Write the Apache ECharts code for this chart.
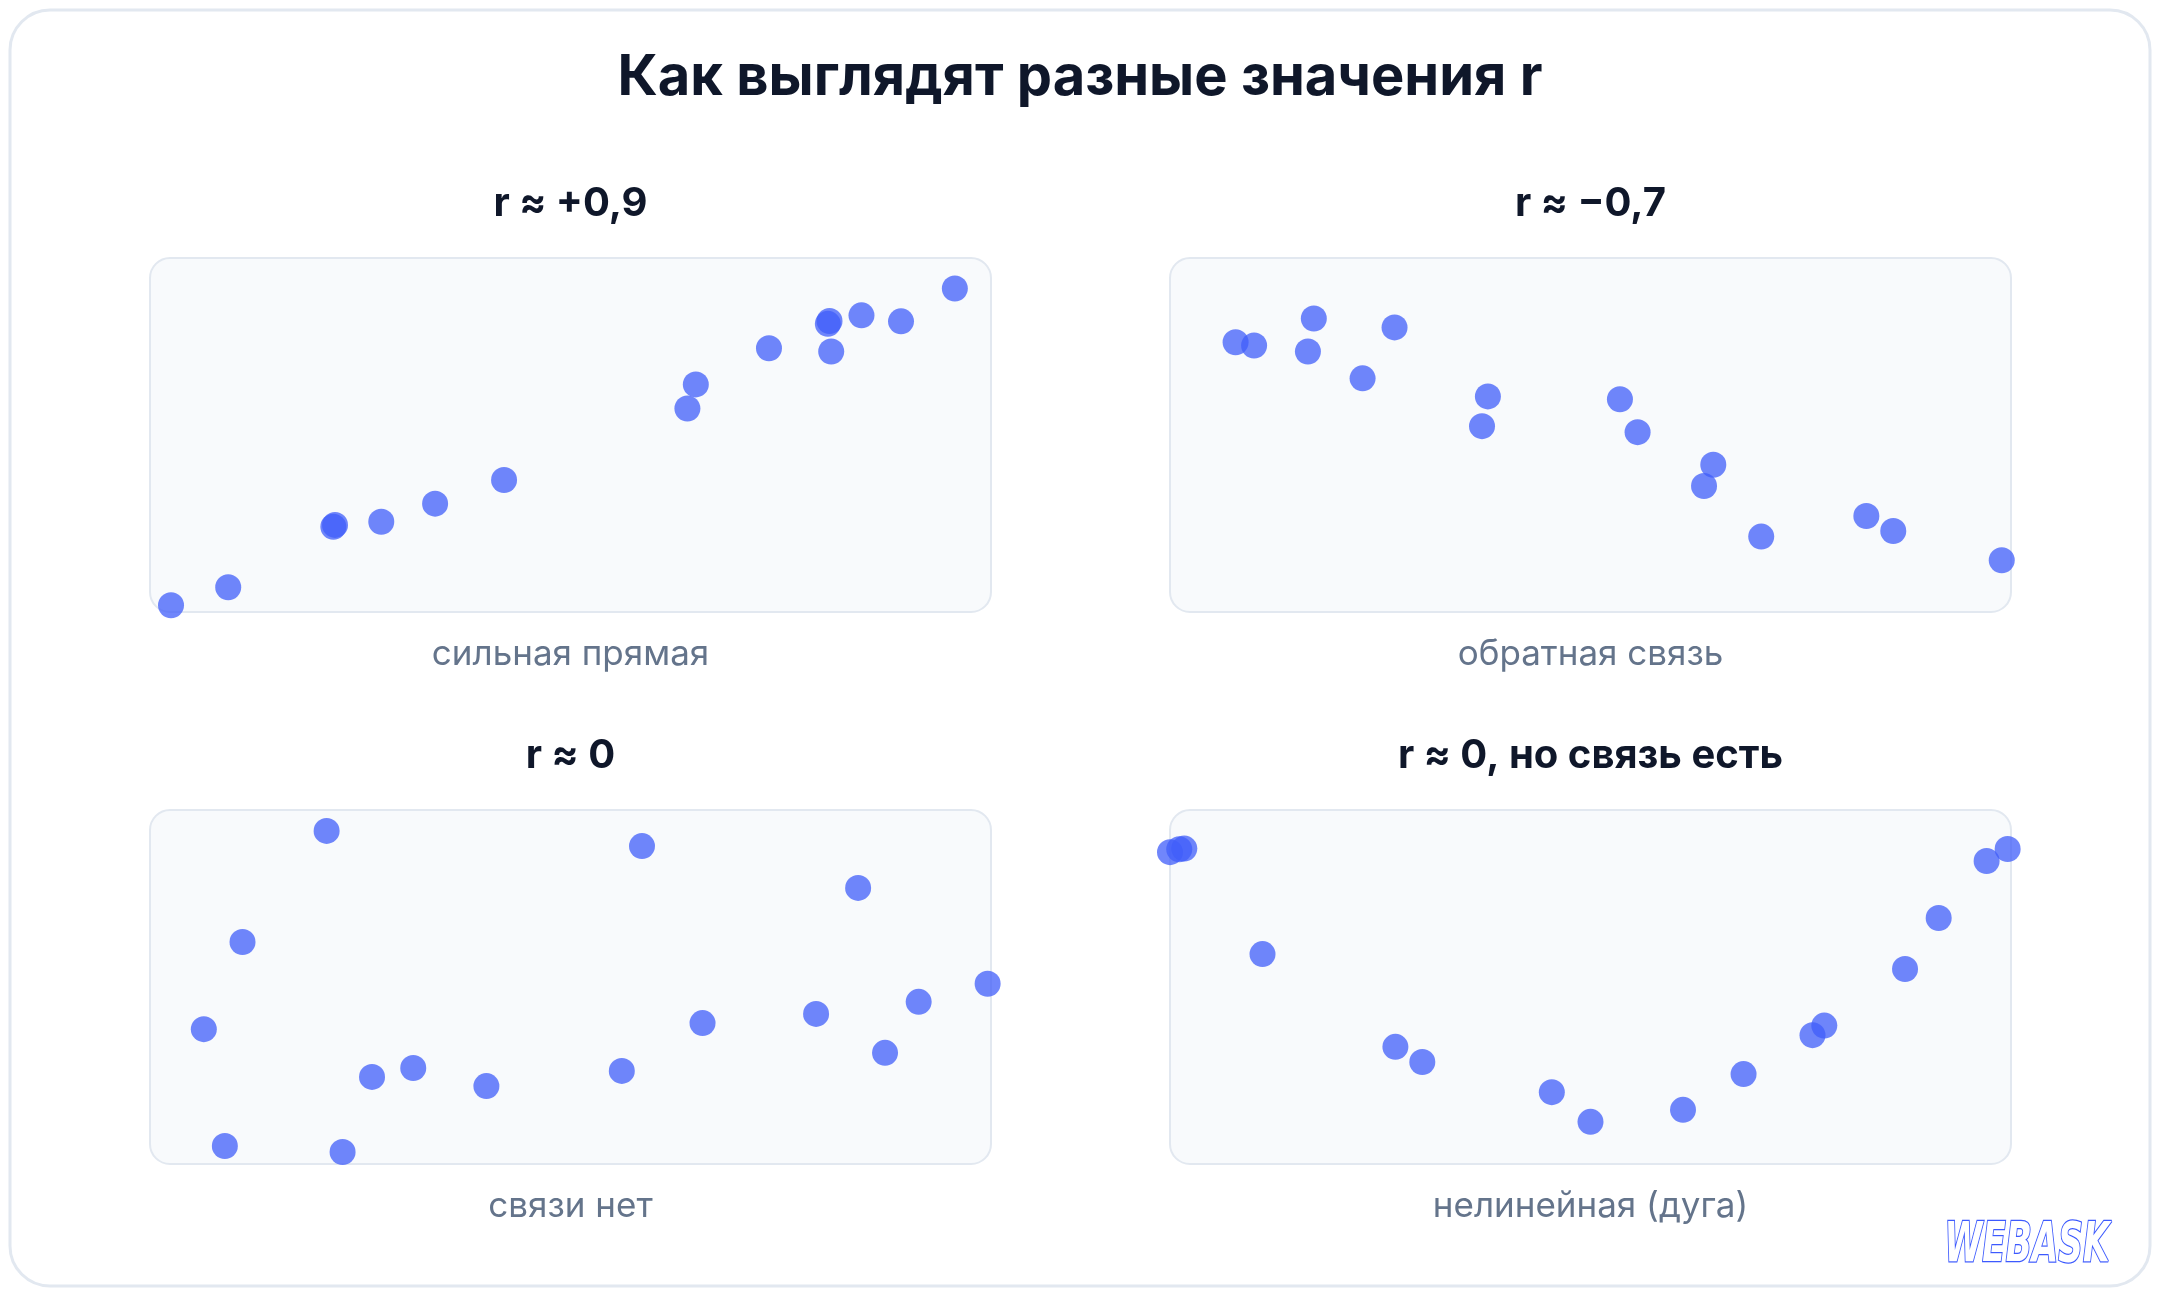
<!DOCTYPE html>
<html>
<head>
<meta charset="utf-8">
<script src="https://cdn.jsdelivr.net/npm/echarts@6/dist/echarts.min.js"></script>
<style>
  html, body { margin: 0; padding: 0; background: #ffffff; }
  #chart { width: 2160px; height: 1296px; }
</style>
</head>
<body>
<div id="chart"></div>
<script>
// ---- Data (normalised 0–100 within each panel) ----
const mainTitle = 'Как выглядят разные значения r';
const panelTitles = ['r ≈ +0,9', 'r ≈ −0,7', 'r ≈ 0', 'r ≈ 0, но связь есть'];
const panelCaptions = ['сильная прямая', 'обратная связь', 'связи нет', 'нелинейная (дуга)'];

const strongX = [2.5, 9.3, 21.8, 22.0, 27.5, 33.9, 42.1, 63.9, 64.9, 73.6, 80.6, 80.8, 81.0, 84.6, 89.3, 95.7];
const strongY = [1.9, 7.0, 24.1, 24.6, 25.5, 30.6, 37.3, 57.5, 64.3, 74.5, 81.4, 82.2, 73.6, 83.8, 82.1, 91.4];

const inverseX = [7.8, 10.0, 17.1, 16.4, 26.7, 22.9, 37.8, 37.1, 53.5, 55.6, 64.6, 63.5, 70.3, 82.8, 86.0, 98.9];
const inverseY = [76.2, 75.3, 82.9, 73.6, 80.4, 66.0, 60.9, 52.5, 60.1, 50.8, 41.6, 35.6, 21.3, 27.1, 22.9, 14.6];

const noneX = [21.0, 58.5, 84.2, 11.0, 99.6, 91.4, 79.2, 65.7, 6.4, 87.4, 56.1, 31.3, 26.4, 40.0, 8.9, 22.9];
const noneY = [94.1, 89.8, 78.0, 62.7, 50.9, 45.8, 42.4, 39.8, 38.1, 31.4, 26.3, 27.1, 24.6, 22.0, 5.1, 3.4];

const arcX = [0.0, 1.1, 1.7, 11.0, 26.8, 30.0, 45.4, 50.0, 61.0, 68.2, 76.4, 77.8, 87.4, 91.4, 97.1, 99.6];
const arcY = [88.1, 88.9, 89.1, 59.3, 33.1, 28.8, 20.3, 11.9, 15.3, 25.4, 36.4, 39.1, 55.1, 69.5, 85.6, 89.0];

const axisMin = 0;
const axisMax = 100;

// ---- Layout ----
const panels = [
  { x: strongX, y: strongY, left: 150, top: 258 },
  { x: inverseX, y: inverseY, left: 1170, top: 258 },
  { x: noneX, y: noneY, left: 150, top: 810 },
  { x: arcX, y: arcY, left: 1170, top: 810 }
];
const boxW = 841, boxH = 354;
const FONT = 'Inter, "Noto Sans", "DejaVu Sans", sans-serif';

const grids = [], xAxes = [], yAxes = [], series = [];
const graphics = [
  { type: 'rect', z: 0, shape: { x: 10, y: 10, width: 2140, height: 1276, r: 40 },
    style: { fill: '#ffffff', stroke: '#e2e8f0', lineWidth: 3 } },
  { type: 'text', z: 1, style: { text: mainTitle, x: 1080, y: 78, align: 'center', verticalAlign: 'middle',
    fontFamily: FONT, fontWeight: 'bold', fontSize: 56, fill: '#0f172a' } }
];

panels.forEach((p, i) => {
  grids.push({ left: p.left, top: p.top, width: boxW, height: boxH, containLabel: false });
  xAxes.push({ gridIndex: i, type: 'value', min: axisMin, max: axisMax, show: false });
  yAxes.push({ gridIndex: i, type: 'value', min: axisMin, max: axisMax, show: false });
  series.push({
    type: 'scatter', xAxisIndex: i, yAxisIndex: i, clip: false, z: 5,
    symbolSize: 26,
    itemStyle: { color: '#405efa', opacity: 0.75 },
    data: p.x.map((v, k) => [v, p.y[k]])
  });
  graphics.push({ type: 'rect', z: 1, shape: { x: p.left, y: p.top, width: boxW, height: boxH, r: 20 },
    style: { fill: '#f8fafc', stroke: '#e2e8f0', lineWidth: 2 } });
  graphics.push({ type: 'text', z: 1, style: { text: panelTitles[i], x: p.left + boxW / 2, y: p.top - 54,
    align: 'center', verticalAlign: 'middle', fontFamily: FONT, fontWeight: 'bold', fontSize: 40, fill: '#0f172a' } });
  graphics.push({ type: 'text', z: 1, style: { text: panelCaptions[i], x: p.left + boxW / 2, y: p.top + boxH + 42,
    align: 'center', verticalAlign: 'middle', fontFamily: FONT, fontWeight: 'normal', fontSize: 35, fill: '#64748b' } });
});

graphics.push({ type: 'text', z: 1, x: 2027, y: 1246, scaleX: 0.68,
  style: { text: 'WEBASK', x: 0, y: 0, align: 'center', verticalAlign: 'middle',
    fontFamily: '"Liberation Sans Narrow", "DejaVu Sans Condensed", sans-serif', fontWeight: 900, fontStyle: 'italic',
    fontSize: 56, fill: '#ffffff', stroke: '#3d5afe', lineWidth: 2.5 } });

const chart = echarts.init(document.getElementById('chart'), null, { renderer: 'canvas' });
chart.setOption({
  animation: false,
  backgroundColor: '#ffffff',
  grid: grids,
  xAxis: xAxes,
  yAxis: yAxes,
  series: series,
  graphic: { elements: graphics }
});
</script>
</body>
</html>
